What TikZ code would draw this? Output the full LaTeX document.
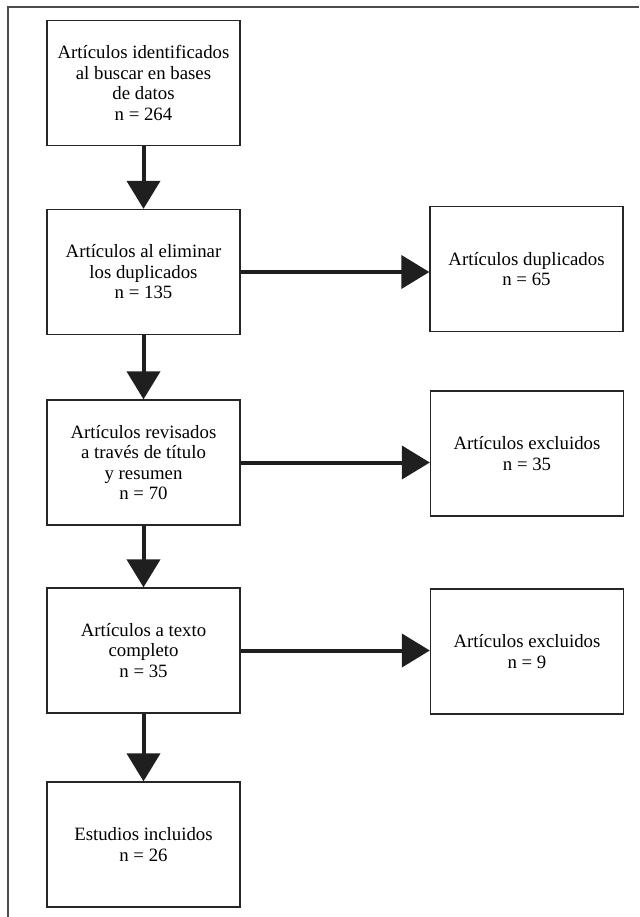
\documentclass[tikz,border=0pt]{standalone}
\usepackage{fontspec}
\setmainfont{Liberation Serif}
\usepackage{tikz}
\usetikzlibrary{arrows.meta}

\begin{document}
\begin{tikzpicture}[x=1pt, y=-1pt,
    stagebox/.style={draw=black!85, line width=1.3pt, minimum width=193pt, minimum height=125pt,
        align=center, font=\fontsize{18.8}{20.5}\selectfont, inner sep=0pt},
    flowarrow/.style={line width=4pt, draw=black!88, -{Triangle[length=28pt, width=33pt]}}]
    \useasboundingbox (0,0) rectangle (639,917);

    % Outer frame (only top and left edges show)
    \draw[black!70, line width=1.5pt] (8,917) -- (8,7) -- (639,7);

    % Main column
    \node[stagebox] (ident) at (143.5,83) {Artículos identificados\\al buscar en bases\\de datos\\n = 264};
    \node[stagebox] (elim) at (143.5,272) {Artículos al eliminar\\los duplicados\\n = 135};
    \node[stagebox] (revis) at (143.5,462.5) {Artículos revisados\\a través de título\\y resumen\\n = 70};
    \node[stagebox] (texto) at (143.5,650.5) {Artículos a texto\\completo\\n = 35};
    \node[stagebox] (incl) at (143.5,844.5) {Estudios incluidos\\n = 26};

    % Side column
    \node[stagebox] (dup) at (526.5,269) {Artículos duplicados\\n = 65};
    \node[stagebox] (excltr) at (527,453.5) {Artículos excluidos\\n = 35};
    \node[stagebox] (excltc) at (527,651.5) {Artículos excluidos\\n = 9};

    % Arrows down
    \draw[flowarrow] (ident) -- (elim);
    \draw[flowarrow] (elim) -- (revis);
    \draw[flowarrow] (revis) -- (texto);
    \draw[flowarrow] (texto) -- (incl);

    % Arrows to the right
    \draw[flowarrow] (elim.east) -- (elim.east -| dup.west);
    \draw[flowarrow] (revis.east) -- (revis.east -| excltr.west);
    \draw[flowarrow] (texto.east) -- (texto.east -| excltc.west);
\end{tikzpicture}
\end{document}
